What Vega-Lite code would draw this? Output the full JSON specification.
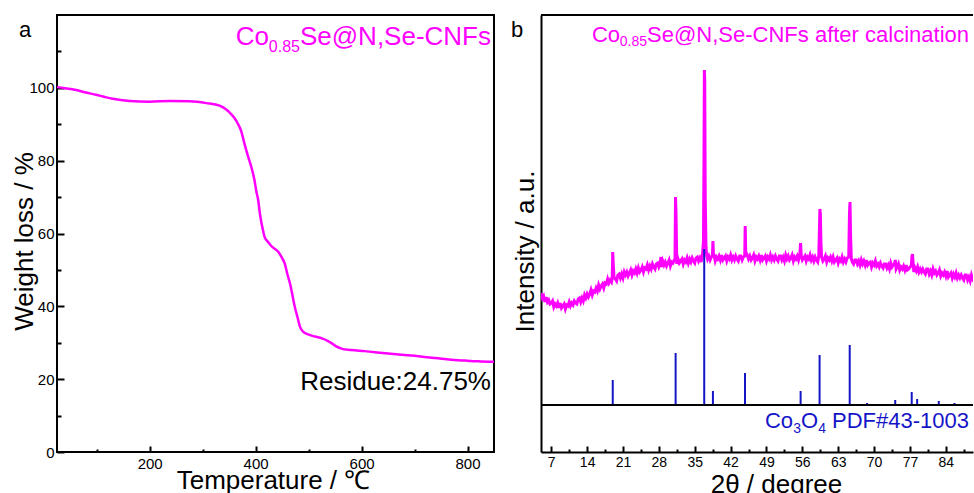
{
  "$schema": "https://vega.github.io/schema/vega-lite/v6.json",
  "background": "white",
  "padding": {"left": 10, "top": 14, "right": 0, "bottom": 0},
  "spacing": 11,
  "config": {
    "font": "Liberation Sans",
    "axis": {"grid": false, "labelColor": "black", "titleColor": "black", "titleFontWeight": "normal", "labelFlush": false, "labelOverlap": false, "tickColor": "black", "tickWidth": 2}
  },
  "datasets": {
    "tga": [
      {"temperature": 25, "weight": 100.2}, {"temperature": 40, "weight": 99.9}, {"temperature": 61, "weight": 99.4},
      {"temperature": 80, "weight": 98.7}, {"temperature": 99, "weight": 98.1}, {"temperature": 115, "weight": 97.5},
      {"temperature": 130, "weight": 97.0}, {"temperature": 162, "weight": 96.4}, {"temperature": 200, "weight": 96.2},
      {"temperature": 237, "weight": 96.4}, {"temperature": 275, "weight": 96.3}, {"temperature": 307, "weight": 95.8},
      {"temperature": 332, "weight": 95.1}, {"temperature": 345, "weight": 94.0}, {"temperature": 351, "weight": 93.2},
      {"temperature": 360, "weight": 91.7}, {"temperature": 367, "weight": 90.0}, {"temperature": 373, "weight": 88.0},
      {"temperature": 379, "weight": 84.6}, {"temperature": 385, "weight": 81.5}, {"temperature": 392, "weight": 78.2},
      {"temperature": 398, "weight": 74.5}, {"temperature": 401, "weight": 71.8}, {"temperature": 405, "weight": 69.0},
      {"temperature": 408, "weight": 65.5}, {"temperature": 414, "weight": 60.8}, {"temperature": 417, "weight": 59.0},
      {"temperature": 424, "weight": 57.6}, {"temperature": 430, "weight": 56.5}, {"temperature": 443, "weight": 54.9},
      {"temperature": 449, "weight": 53.5}, {"temperature": 455, "weight": 51.7}, {"temperature": 460, "weight": 48.8},
      {"temperature": 465, "weight": 46.2}, {"temperature": 474, "weight": 39.8}, {"temperature": 479, "weight": 37.0},
      {"temperature": 484, "weight": 34.3}, {"temperature": 490, "weight": 33.0}, {"temperature": 499, "weight": 32.3},
      {"temperature": 512, "weight": 31.7}, {"temperature": 525, "weight": 31.2}, {"temperature": 535, "weight": 30.6},
      {"temperature": 543, "weight": 29.9}, {"temperature": 552, "weight": 29.0}, {"temperature": 562, "weight": 28.4},
      {"temperature": 580, "weight": 28.0}, {"temperature": 606, "weight": 27.7}, {"temperature": 640, "weight": 27.2},
      {"temperature": 670, "weight": 26.8}, {"temperature": 700, "weight": 26.4}, {"temperature": 733, "weight": 25.9},
      {"temperature": 765, "weight": 25.4}, {"temperature": 796, "weight": 25.1}, {"temperature": 820, "weight": 24.9},
      {"temperature": 850, "weight": 24.75}
    ],
    "xrd": [
      {"angle": 5, "counts": 159}, {"angle": 5.25, "counts": 154}, {"angle": 5.5, "counts": 156}, {"angle": 5.75, "counts": 150},
      {"angle": 6, "counts": 155}, {"angle": 6.25, "counts": 150}, {"angle": 6.5, "counts": 152}, {"angle": 6.75, "counts": 148},
      {"angle": 7, "counts": 149}, {"angle": 7.25, "counts": 151}, {"angle": 7.5, "counts": 145}, {"angle": 7.75, "counts": 148},
      {"angle": 8, "counts": 146}, {"angle": 8.25, "counts": 149}, {"angle": 8.5, "counts": 144}, {"angle": 8.75, "counts": 149},
      {"angle": 9, "counts": 144}, {"angle": 9.25, "counts": 146}, {"angle": 9.5, "counts": 148}, {"angle": 9.75, "counts": 143},
      {"angle": 10, "counts": 147}, {"angle": 10.25, "counts": 146}, {"angle": 10.5, "counts": 150}, {"angle": 10.75, "counts": 146},
      {"angle": 11, "counts": 149}, {"angle": 11.25, "counts": 147}, {"angle": 11.5, "counts": 151}, {"angle": 11.75, "counts": 149},
      {"angle": 12, "counts": 148}, {"angle": 12.25, "counts": 153}, {"angle": 12.5, "counts": 154}, {"angle": 12.75, "counts": 150},
      {"angle": 13, "counts": 154}, {"angle": 13.25, "counts": 151}, {"angle": 13.5, "counts": 157}, {"angle": 13.75, "counts": 154},
      {"angle": 14, "counts": 158}, {"angle": 14.25, "counts": 155}, {"angle": 14.5, "counts": 158}, {"angle": 14.75, "counts": 162},
      {"angle": 15, "counts": 157}, {"angle": 15.25, "counts": 161}, {"angle": 15.5, "counts": 160}, {"angle": 15.75, "counts": 164},
      {"angle": 16, "counts": 161}, {"angle": 16.25, "counts": 167}, {"angle": 16.5, "counts": 163}, {"angle": 16.75, "counts": 166},
      {"angle": 17, "counts": 168}, {"angle": 17.25, "counts": 164}, {"angle": 17.5, "counts": 169}, {"angle": 17.75, "counts": 168},
      {"angle": 18, "counts": 173}, {"angle": 18.25, "counts": 169}, {"angle": 18.5, "counts": 172}, {"angle": 18.75, "counts": 170},
      {"angle": 18.9, "counts": 174}, {"angle": 19, "counts": 200}, {"angle": 19.1, "counts": 188}, {"angle": 19.25, "counts": 175},
      {"angle": 19.5, "counts": 173}, {"angle": 19.75, "counts": 171}, {"angle": 20, "counts": 177}, {"angle": 20.25, "counts": 178},
      {"angle": 20.5, "counts": 174}, {"angle": 20.75, "counts": 178}, {"angle": 21, "counts": 174}, {"angle": 21.25, "counts": 180},
      {"angle": 21.5, "counts": 177}, {"angle": 21.75, "counts": 180}, {"angle": 22, "counts": 176}, {"angle": 22.25, "counts": 179},
      {"angle": 22.5, "counts": 182}, {"angle": 22.75, "counts": 177}, {"angle": 23, "counts": 181}, {"angle": 23.25, "counts": 179},
      {"angle": 23.5, "counts": 183}, {"angle": 23.75, "counts": 179}, {"angle": 24, "counts": 184}, {"angle": 24.25, "counts": 180},
      {"angle": 24.5, "counts": 182}, {"angle": 24.75, "counts": 185}, {"angle": 25, "counts": 180}, {"angle": 25.25, "counts": 184},
      {"angle": 25.5, "counts": 183}, {"angle": 25.75, "counts": 187}, {"angle": 26, "counts": 182}, {"angle": 26.25, "counts": 186},
      {"angle": 26.5, "counts": 183}, {"angle": 26.75, "counts": 188}, {"angle": 27, "counts": 185}, {"angle": 27.25, "counts": 183},
      {"angle": 27.5, "counts": 188}, {"angle": 27.75, "counts": 189}, {"angle": 28, "counts": 185}, {"angle": 28.25, "counts": 188},
      {"angle": 28.4, "counts": 195}, {"angle": 28.5, "counts": 185}, {"angle": 28.75, "counts": 191}, {"angle": 29, "counts": 187},
      {"angle": 29.25, "counts": 190}, {"angle": 29.5, "counts": 186}, {"angle": 29.75, "counts": 189}, {"angle": 30, "counts": 192},
      {"angle": 30.25, "counts": 186}, {"angle": 30.5, "counts": 190}, {"angle": 30.75, "counts": 189}, {"angle": 31, "counts": 192},
      {"angle": 31.15, "counts": 193}, {"angle": 31.25, "counts": 255}, {"angle": 31.35, "counts": 238}, {"angle": 31.5, "counts": 188},
      {"angle": 31.75, "counts": 193}, {"angle": 32, "counts": 189}, {"angle": 32.25, "counts": 191}, {"angle": 32.5, "counts": 193},
      {"angle": 32.75, "counts": 188}, {"angle": 33, "counts": 192}, {"angle": 33.25, "counts": 190}, {"angle": 33.5, "counts": 194},
      {"angle": 33.75, "counts": 189}, {"angle": 34, "counts": 193}, {"angle": 34.25, "counts": 190}, {"angle": 34.5, "counts": 194},
      {"angle": 34.75, "counts": 191}, {"angle": 35, "counts": 189}, {"angle": 35.25, "counts": 194}, {"angle": 35.5, "counts": 195},
      {"angle": 35.75, "counts": 191}, {"angle": 36, "counts": 194}, {"angle": 36.25, "counts": 190}, {"angle": 36.5, "counts": 197},
      {"angle": 36.7, "counts": 210}, {"angle": 36.8, "counts": 290}, {"angle": 36.88, "counts": 382}, {"angle": 36.95, "counts": 372},
      {"angle": 37.05, "counts": 255}, {"angle": 37.2, "counts": 204}, {"angle": 37.35, "counts": 196}, {"angle": 37.5, "counts": 193},
      {"angle": 37.75, "counts": 196}, {"angle": 38, "counts": 192}, {"angle": 38.25, "counts": 195}, {"angle": 38.45, "counts": 197},
      {"angle": 38.55, "counts": 211}, {"angle": 38.65, "counts": 198}, {"angle": 38.75, "counts": 197}, {"angle": 39, "counts": 191},
      {"angle": 39.25, "counts": 195}, {"angle": 39.5, "counts": 193}, {"angle": 39.75, "counts": 196}, {"angle": 40, "counts": 192},
      {"angle": 40.25, "counts": 197}, {"angle": 40.5, "counts": 192}, {"angle": 40.75, "counts": 194}, {"angle": 41, "counts": 196},
      {"angle": 41.25, "counts": 191}, {"angle": 41.5, "counts": 195}, {"angle": 41.75, "counts": 193}, {"angle": 42, "counts": 197},
      {"angle": 42.25, "counts": 192}, {"angle": 42.5, "counts": 195}, {"angle": 42.75, "counts": 192}, {"angle": 43, "counts": 196},
      {"angle": 43.25, "counts": 193}, {"angle": 43.5, "counts": 191}, {"angle": 43.75, "counts": 196}, {"angle": 44, "counts": 196},
      {"angle": 44.25, "counts": 192}, {"angle": 44.5, "counts": 195}, {"angle": 44.75, "counts": 196}, {"angle": 44.85, "counts": 226},
      {"angle": 44.95, "counts": 200}, {"angle": 45.25, "counts": 197}, {"angle": 45.5, "counts": 193}, {"angle": 45.75, "counts": 196},
      {"angle": 46, "counts": 192}, {"angle": 46.25, "counts": 194}, {"angle": 46.5, "counts": 197}, {"angle": 46.75, "counts": 191},
      {"angle": 47, "counts": 195}, {"angle": 47.25, "counts": 193}, {"angle": 47.5, "counts": 196}, {"angle": 47.75, "counts": 192},
      {"angle": 48, "counts": 197}, {"angle": 48.25, "counts": 192}, {"angle": 48.5, "counts": 194}, {"angle": 48.75, "counts": 196},
      {"angle": 49, "counts": 191}, {"angle": 49.25, "counts": 195}, {"angle": 49.5, "counts": 193}, {"angle": 49.75, "counts": 197},
      {"angle": 50, "counts": 192}, {"angle": 50.25, "counts": 195}, {"angle": 50.5, "counts": 192}, {"angle": 50.75, "counts": 196},
      {"angle": 51, "counts": 193}, {"angle": 51.25, "counts": 191}, {"angle": 51.5, "counts": 196}, {"angle": 51.75, "counts": 196},
      {"angle": 52, "counts": 192}, {"angle": 52.25, "counts": 195}, {"angle": 52.5, "counts": 191}, {"angle": 52.75, "counts": 197},
      {"angle": 53, "counts": 193}, {"angle": 53.25, "counts": 196}, {"angle": 53.5, "counts": 192}, {"angle": 53.75, "counts": 194},
      {"angle": 54, "counts": 197}, {"angle": 54.25, "counts": 191}, {"angle": 54.5, "counts": 195}, {"angle": 54.75, "counts": 193},
      {"angle": 55, "counts": 196}, {"angle": 55.25, "counts": 192}, {"angle": 55.5, "counts": 197}, {"angle": 55.65, "counts": 209},
      {"angle": 55.8, "counts": 196}, {"angle": 56, "counts": 192}, {"angle": 56.25, "counts": 194}, {"angle": 56.5, "counts": 196},
      {"angle": 56.75, "counts": 191}, {"angle": 57, "counts": 195}, {"angle": 57.25, "counts": 193}, {"angle": 57.5, "counts": 197},
      {"angle": 57.75, "counts": 192}, {"angle": 58, "counts": 195}, {"angle": 58.25, "counts": 191}, {"angle": 58.5, "counts": 195},
      {"angle": 58.75, "counts": 192}, {"angle": 59, "counts": 190}, {"angle": 59.2, "counts": 196}, {"angle": 59.3, "counts": 215},
      {"angle": 59.42, "counts": 243}, {"angle": 59.52, "counts": 238}, {"angle": 59.62, "counts": 210}, {"angle": 59.75, "counts": 195},
      {"angle": 60, "counts": 191}, {"angle": 60.25, "counts": 193}, {"angle": 60.5, "counts": 196}, {"angle": 60.75, "counts": 190},
      {"angle": 61, "counts": 194}, {"angle": 61.25, "counts": 192}, {"angle": 61.5, "counts": 195}, {"angle": 61.75, "counts": 191},
      {"angle": 62, "counts": 195}, {"angle": 62.25, "counts": 190}, {"angle": 62.5, "counts": 192}, {"angle": 62.75, "counts": 194},
      {"angle": 63, "counts": 189}, {"angle": 63.25, "counts": 193}, {"angle": 63.5, "counts": 191}, {"angle": 63.75, "counts": 195},
      {"angle": 64, "counts": 190}, {"angle": 64.25, "counts": 193}, {"angle": 64.5, "counts": 190}, {"angle": 64.75, "counts": 194},
      {"angle": 65.05, "counts": 195}, {"angle": 65.2, "counts": 240}, {"angle": 65.3, "counts": 250}, {"angle": 65.42, "counts": 215},
      {"angle": 65.55, "counts": 193}, {"angle": 65.75, "counts": 190}, {"angle": 66, "counts": 188}, {"angle": 66.25, "counts": 192},
      {"angle": 66.5, "counts": 192}, {"angle": 66.75, "counts": 188}, {"angle": 67, "counts": 191}, {"angle": 67.25, "counts": 187},
      {"angle": 67.5, "counts": 192}, {"angle": 67.75, "counts": 188}, {"angle": 68, "counts": 191}, {"angle": 68.25, "counts": 187},
      {"angle": 68.5, "counts": 192}, {"angle": 68.75, "counts": 187}, {"angle": 69, "counts": 189}, {"angle": 69.25, "counts": 190},
      {"angle": 69.5, "counts": 185}, {"angle": 69.75, "counts": 189}, {"angle": 70, "counts": 187}, {"angle": 70.25, "counts": 191},
      {"angle": 70.5, "counts": 186}, {"angle": 70.75, "counts": 188}, {"angle": 71, "counts": 185}, {"angle": 71.25, "counts": 189},
      {"angle": 71.5, "counts": 186}, {"angle": 71.75, "counts": 184}, {"angle": 72, "counts": 188}, {"angle": 72.25, "counts": 188},
      {"angle": 72.5, "counts": 184}, {"angle": 72.75, "counts": 187}, {"angle": 73, "counts": 183}, {"angle": 73.25, "counts": 189},
      {"angle": 73.5, "counts": 185}, {"angle": 73.75, "counts": 187}, {"angle": 74, "counts": 189}, {"angle": 74.15, "counts": 192},
      {"angle": 74.3, "counts": 183}, {"angle": 74.5, "counts": 185}, {"angle": 74.75, "counts": 188}, {"angle": 75, "counts": 182},
      {"angle": 75.25, "counts": 185}, {"angle": 75.5, "counts": 183}, {"angle": 75.75, "counts": 186}, {"angle": 76, "counts": 182},
      {"angle": 76.25, "counts": 187}, {"angle": 76.5, "counts": 182}, {"angle": 76.75, "counts": 183}, {"angle": 77, "counts": 185},
      {"angle": 77.25, "counts": 186}, {"angle": 77.4, "counts": 196}, {"angle": 77.5, "counts": 198}, {"angle": 77.62, "counts": 188},
      {"angle": 77.75, "counts": 180}, {"angle": 78, "counts": 184}, {"angle": 78.25, "counts": 181}, {"angle": 78.5, "counts": 185},
      {"angle": 78.75, "counts": 180}, {"angle": 79, "counts": 183}, {"angle": 79.25, "counts": 180}, {"angle": 79.5, "counts": 183},
      {"angle": 79.75, "counts": 180}, {"angle": 80, "counts": 178}, {"angle": 80.25, "counts": 183}, {"angle": 80.5, "counts": 183},
      {"angle": 80.75, "counts": 178}, {"angle": 81, "counts": 181}, {"angle": 81.25, "counts": 177}, {"angle": 81.5, "counts": 183},
      {"angle": 81.75, "counts": 179}, {"angle": 82, "counts": 181}, {"angle": 82.25, "counts": 177}, {"angle": 82.5, "counts": 179},
      {"angle": 82.75, "counts": 182}, {"angle": 83, "counts": 176}, {"angle": 83.25, "counts": 179}, {"angle": 83.5, "counts": 177},
      {"angle": 83.75, "counts": 180}, {"angle": 84, "counts": 176}, {"angle": 84.25, "counts": 181}, {"angle": 84.5, "counts": 175},
      {"angle": 84.75, "counts": 177}, {"angle": 85, "counts": 179}, {"angle": 85.25, "counts": 174}, {"angle": 85.5, "counts": 178},
      {"angle": 85.75, "counts": 175}, {"angle": 86, "counts": 179}, {"angle": 86.25, "counts": 174}, {"angle": 86.5, "counts": 177},
      {"angle": 86.75, "counts": 174}, {"angle": 87, "counts": 177}, {"angle": 87.25, "counts": 174}, {"angle": 87.5, "counts": 172},
      {"angle": 87.75, "counts": 177}, {"angle": 88, "counts": 177}, {"angle": 88.25, "counts": 172}, {"angle": 88.5, "counts": 175},
      {"angle": 88.75, "counts": 171}, {"angle": 89, "counts": 177}, {"angle": 89.25, "counts": 173}, {"angle": 89.5, "counts": 175}
    ],
    "pdf": [
      {"angle": 19.0, "counts": 72}, {"angle": 31.27, "counts": 99}, {"angle": 36.85, "counts": 203},
      {"angle": 38.55, "counts": 61}, {"angle": 44.81, "counts": 79}, {"angle": 55.66, "counts": 61},
      {"angle": 59.36, "counts": 97}, {"angle": 65.24, "counts": 107}, {"angle": 68.63, "counts": 49},
      {"angle": 74.12, "counts": 52}, {"angle": 77.34, "counts": 60}, {"angle": 78.4, "counts": 53},
      {"angle": 82.62, "counts": 51}, {"angle": 85.7, "counts": 49}
    ]
  },
  "hconcat": [
    {
      "width": 437,
      "height": 437,
      "view": {"stroke": "black", "strokeWidth": 2},
      "encoding": {
        "x": {
          "type": "quantitative",
          "scale": {"domain": [25, 850], "nice": false, "zero": false},
          "axis": {
            "values": [100, 200, 300, 400, 500, 600, 700, 800],
            "labelExpr": "datum.value % 200 === 0 ? datum.label : ''",
            "tickSize": {"condition": {"test": "datum.value % 200 === 0", "value": -6}, "value": -3},
            "domain": false, "labelPadding": 10, "labelFontSize": 15,
            "title": "Temperature / ℃", "titleFontSize": 26, "titleX": 216, "titleY": 15
          }
        },
        "y": {
          "type": "quantitative",
          "scale": {"domain": [0, 120], "nice": false},
          "axis": {
            "values": [0, 10, 20, 30, 40, 50, 60, 70, 80, 90, 100, 110],
            "labelExpr": "datum.value % 20 === 0 ? datum.label : ''",
            "tickSize": {"condition": {"test": "datum.value % 20 === 0", "value": -7}, "value": -4},
            "domain": false, "labelPadding": 10, "labelFontSize": 15,
            "title": "Weight loss / %", "titleFontSize": 26, "titleX": -20, "titleY": 226
          }
        }
      },
      "layer": [
        {
          "data": {"name": "tga"},
          "mark": {"type": "line", "color": "#ff00ff", "strokeWidth": 2.5, "interpolate": "monotone"},
          "encoding": {"x": {"field": "temperature"}, "y": {"field": "weight"}}
        },
        {
          "data": {"values": [{}]},
          "mark": {"type": "text", "text": "Co", "color": "#ff00ff", "fontSize": 26, "align": "right", "baseline": "alphabetic", "dx": -225, "dy": 30},
          "encoding": {"x": {"datum": 850}, "y": {"datum": 120}}
        },
        {
          "data": {"values": [{}]},
          "mark": {"type": "text", "text": "0.85", "color": "#ff00ff", "fontSize": 16, "align": "right", "baseline": "alphabetic", "dx": -194, "dy": 37},
          "encoding": {"x": {"datum": 850}, "y": {"datum": 120}}
        },
        {
          "data": {"values": [{}]},
          "mark": {"type": "text", "text": "Se@N,Se-CNFs", "color": "#ff00ff", "fontSize": 26, "align": "right", "baseline": "alphabetic", "dx": -3, "dy": 30},
          "encoding": {"x": {"datum": 850}, "y": {"datum": 120}}
        },
        {
          "data": {"values": [{}]},
          "mark": {"type": "text", "text": "Residue:24.75%", "color": "black", "fontSize": 26, "align": "right", "baseline": "alphabetic", "dx": -3},
          "encoding": {"x": {"datum": 850}, "y": {"datum": 17}}
        },
        {
          "data": {"values": [{}]},
          "mark": {"type": "text", "text": "a", "color": "black", "fontSize": 22, "align": "left", "baseline": "alphabetic", "dx": -38, "dy": 22},
          "encoding": {"x": {"datum": 25}, "y": {"datum": 120}}
        }
      ]
    },
    {
      "width": 432,
      "height": 437,
      "view": {"stroke": null},
      "encoding": {
        "x": {
          "type": "quantitative",
          "scale": {"domain": [5, 89.3], "nice": false, "zero": false},
          "axis": {
            "values": [7, 10.5, 14, 17.5, 21, 24.5, 28, 31.5, 35, 38.5, 42, 45.5, 49, 52.5, 56, 59.5, 63, 66.5, 70, 73.5, 77, 80.5, 84, 87.5],
            "labelExpr": "datum.value % 7 === 0 ? datum.label : ''",
            "tickSize": {"condition": {"test": "datum.value % 7 === 0", "value": -6}, "value": -3},
            "domain": true, "domainColor": "black", "domainWidth": 2,
            "labelPadding": 9.5, "labelFontSize": 14,
            "title": "2θ / degree", "titleFontSize": 26, "titleX": 235, "titleY": 19
          }
        },
        "y": {
          "type": "quantitative",
          "scale": {"domain": [0, 437], "nice": false},
          "axis": {
            "ticks": false, "labels": false,
            "domain": true, "domainColor": "black", "domainWidth": 2,
            "title": "Intensity / a.u.", "titleFontSize": 26, "titleX": -3, "titleY": 236
          }
        }
      },
      "layer": [
        {
          "data": {"name": "xrd"},
          "mark": {"type": "line", "color": "#ff00ff", "strokeWidth": 3, "clip": true},
          "encoding": {"x": {"field": "angle"}, "y": {"field": "counts"}}
        },
        {
          "data": {"name": "pdf"},
          "mark": {"type": "rule", "color": "#1515c8", "strokeWidth": 2},
          "encoding": {"x": {"field": "angle"}, "y": {"field": "counts"}, "y2": {"datum": 47}}
        },
        {
          "data": {"values": [{}]},
          "mark": {"type": "rule", "color": "black", "strokeWidth": 2},
          "encoding": {"y": {"datum": 47}}
        },
        {
          "data": {"values": [{}]},
          "mark": {"type": "rule", "color": "black", "strokeWidth": 2},
          "encoding": {"y": {"datum": 437}}
        },
        {
          "data": {"values": [{}]},
          "mark": {"type": "text", "text": "Co", "color": "#ff00ff", "fontSize": 22, "align": "right", "baseline": "alphabetic", "dx": -353, "dy": 27},
          "encoding": {"x": {"datum": 89.3}, "y": {"datum": 437}}
        },
        {
          "data": {"values": [{}]},
          "mark": {"type": "text", "text": "0.85", "color": "#ff00ff", "fontSize": 14, "align": "right", "baseline": "alphabetic", "dx": -326, "dy": 31},
          "encoding": {"x": {"datum": 89.3}, "y": {"datum": 437}}
        },
        {
          "data": {"values": [{}]},
          "mark": {"type": "text", "text": "Se@N,Se-CNFs after calcination", "color": "#ff00ff", "fontSize": 22, "align": "right", "baseline": "alphabetic", "dx": -4, "dy": 27},
          "encoding": {"x": {"datum": 89.3}, "y": {"datum": 437}}
        },
        {
          "data": {"values": [{}]},
          "mark": {"type": "text", "text": "Co", "color": "#1515c8", "fontSize": 22, "align": "right", "baseline": "alphabetic", "dx": -180, "dy": -24},
          "encoding": {"x": {"datum": 89.3}, "y": {"datum": 0}}
        },
        {
          "data": {"values": [{}]},
          "mark": {"type": "text", "text": "3", "color": "#1515c8", "fontSize": 14, "align": "right", "baseline": "alphabetic", "dx": -172, "dy": -19},
          "encoding": {"x": {"datum": 89.3}, "y": {"datum": 0}}
        },
        {
          "data": {"values": [{}]},
          "mark": {"type": "text", "text": "O", "color": "#1515c8", "fontSize": 22, "align": "right", "baseline": "alphabetic", "dx": -155, "dy": -24},
          "encoding": {"x": {"datum": 89.3}, "y": {"datum": 0}}
        },
        {
          "data": {"values": [{}]},
          "mark": {"type": "text", "text": "4", "color": "#1515c8", "fontSize": 14, "align": "right", "baseline": "alphabetic", "dx": -147, "dy": -19},
          "encoding": {"x": {"datum": 89.3}, "y": {"datum": 0}}
        },
        {
          "data": {"values": [{}]},
          "mark": {"type": "text", "text": "PDF#43-1003", "color": "#1515c8", "fontSize": 22, "align": "right", "baseline": "alphabetic", "dx": -4, "dy": -24},
          "encoding": {"x": {"datum": 89.3}, "y": {"datum": 0}}
        },
        {
          "data": {"values": [{}]},
          "mark": {"type": "text", "text": "b", "color": "black", "fontSize": 22, "align": "left", "baseline": "alphabetic", "dx": -30, "dy": 22},
          "encoding": {"x": {"datum": 5}, "y": {"datum": 437}}
        }
      ]
    }
  ]
}
